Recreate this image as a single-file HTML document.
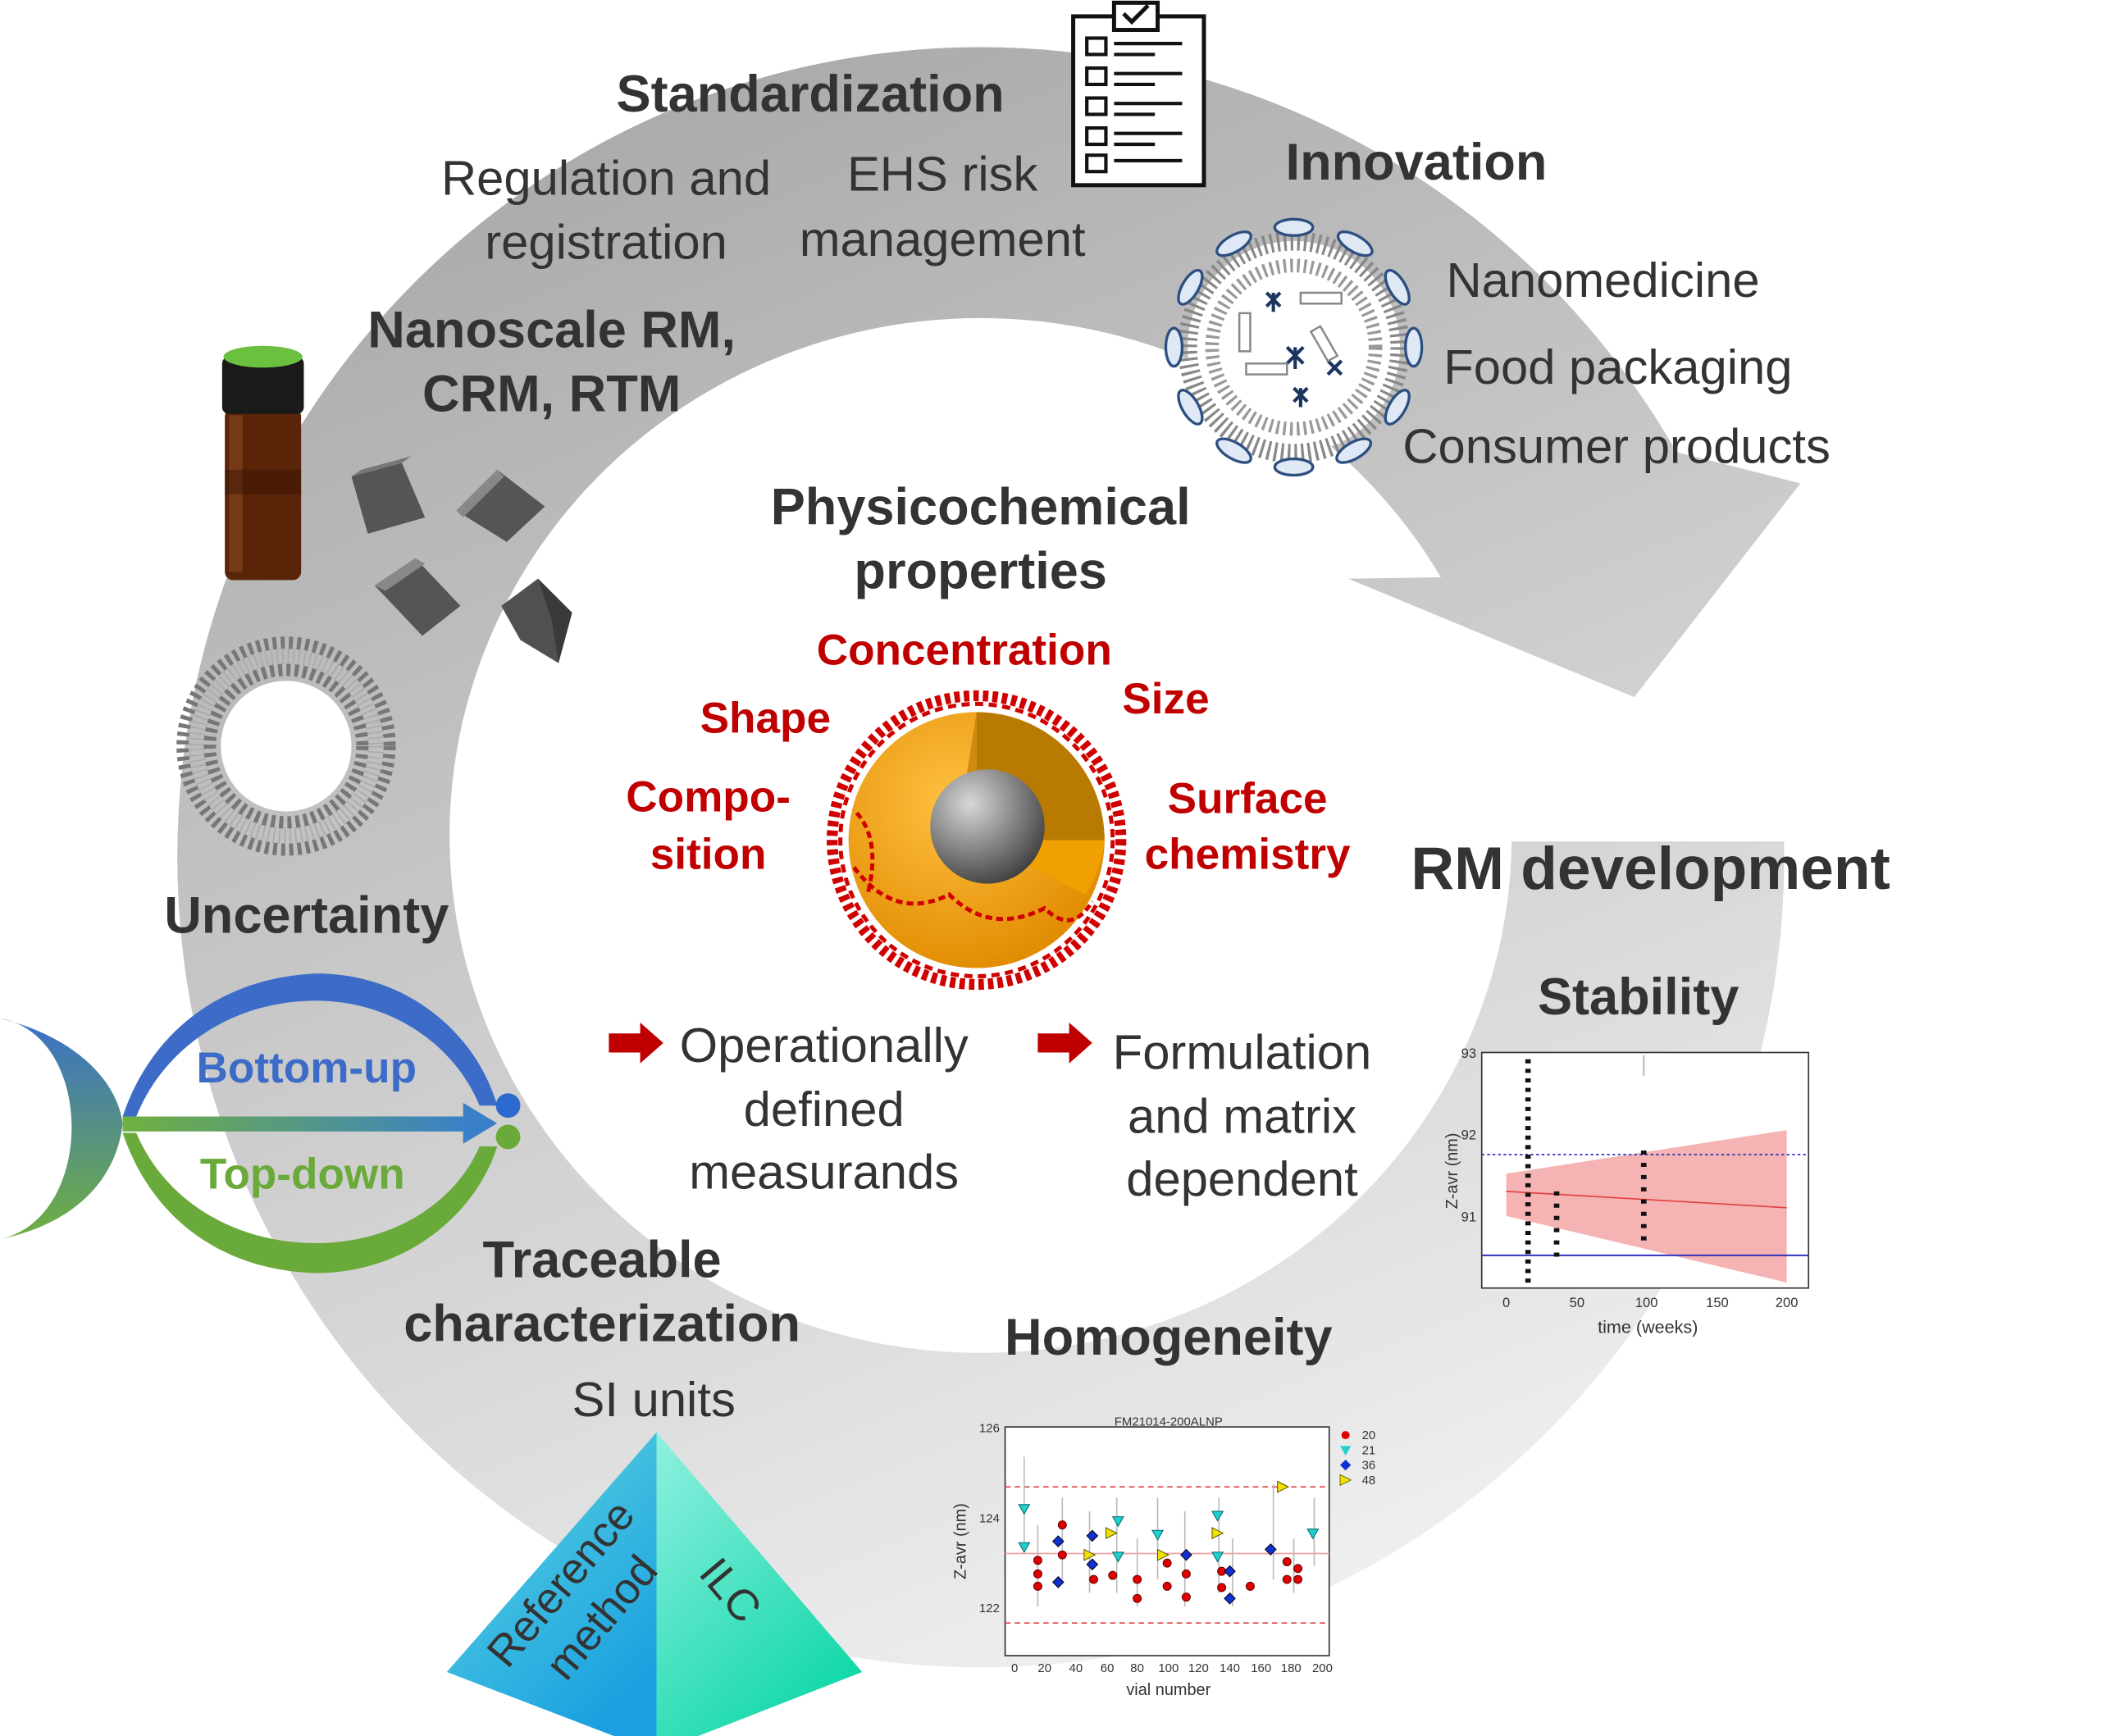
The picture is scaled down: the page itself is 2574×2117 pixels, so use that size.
<!DOCTYPE html>
<html><head><meta charset="utf-8"><style>
html,body{margin:0;padding:0;background:#fff}
svg{display:block}
text{font-family:"Liberation Sans",Arial,sans-serif;fill:#333}
.b{font-weight:bold}
.r{fill:#c00000;font-weight:bold}
</style></head><body>
<svg width="2574" height="2117" viewBox="0 0 1550 1275" xmlns="http://www.w3.org/2000/svg">
<defs>
<linearGradient id="ring" x1="0.3" y1="0" x2="0.7" y2="1">
<stop offset="0" stop-color="#a9a9a9"/><stop offset="0.5" stop-color="#cdcdcd"/><stop offset="1" stop-color="#f2f2f2"/></linearGradient>
<radialGradient id="org" cx="0.4" cy="0.35" r="0.7"><stop offset="0" stop-color="#ffc040"/><stop offset="1" stop-color="#e08a00"/></radialGradient>
<radialGradient id="core" cx="0.35" cy="0.3" r="0.75"><stop offset="0" stop-color="#d8d8d8"/><stop offset="1" stop-color="#404040"/></radialGradient>
<linearGradient id="pl" x1="0" y1="0" x2="0.6" y2="1"><stop offset="0" stop-color="#60d8e0"/><stop offset="1" stop-color="#1aa0e0"/></linearGradient>
<linearGradient id="pr" x1="0" y1="0" x2="0.6" y2="1"><stop offset="0" stop-color="#90f0e0"/><stop offset="1" stop-color="#10d8a8"/></linearGradient>
<linearGradient id="cres" x1="0" y1="0" x2="0" y2="1"><stop offset="0" stop-color="#3a70c8"/><stop offset="1" stop-color="#70b040"/></linearGradient>
<linearGradient id="arr" x1="0" y1="0" x2="1" y2="0"><stop offset="0" stop-color="#70b040"/><stop offset="1" stop-color="#3a80c8"/></linearGradient>
</defs>

<!-- ring -->
<path d="M1310,618 A590,595 0 1 1 1231,332 L1322,355 L1200,512 L990,425 L1058,424 A390,380 0 1 0 1110,618 Z" fill="url(#ring)"/>

<!-- clipboard -->
<g stroke="#111" stroke-width="3" fill="#fff">
<rect x="788" y="12" width="96" height="124"/>
<rect x="818" y="2" width="32" height="20"/>
<path d="M825,10 l6,6 l12,-12" fill="none"/>
<g fill="none" stroke-width="2.5">
<rect x="798" y="28" width="14" height="12"/><rect x="798" y="50" width="14" height="12"/><rect x="798" y="72" width="14" height="12"/><rect x="798" y="94" width="14" height="12"/><rect x="798" y="114" width="14" height="12"/>
<path d="M818,32h50M818,40h30M818,54h50M818,62h30M818,76h50M818,84h30M818,98h50M818,106h30M818,118h50"/>
</g></g>

<text x="595" y="82" font-size="38" text-anchor="middle" class="b">Standardization</text>
<text x="445" y="143" font-size="36" text-anchor="middle">Regulation and</text>
<text x="445" y="190" font-size="36" text-anchor="middle">registration</text>
<text x="692" y="140" font-size="36" text-anchor="middle">EHS risk</text>
<text x="692" y="188" font-size="36" text-anchor="middle">management</text>
<text x="1040" y="132" font-size="38" text-anchor="middle" class="b">Innovation</text>
<text x="1062" y="218" font-size="36">Nanomedicine</text>
<text x="1060" y="282" font-size="36">Food packaging</text>
<text x="1030" y="340" font-size="36">Consumer products</text>

<!-- top-right liposome -->
<g transform="translate(950,255)">
<circle r="78" fill="#fff" stroke="#888" stroke-width="14" stroke-dasharray="2 3"/>
<circle r="60" fill="#fff" stroke="#999" stroke-width="10" stroke-dasharray="2 3"/>
<g fill="#dfe8f5" stroke="#2c4f80" stroke-width="2">
<ellipse cx="0" cy="-88" rx="14" ry="6"/><ellipse cx="45" cy="-76" rx="14" ry="6" transform="rotate(30 45 -76)"/><ellipse cx="76" cy="-44" rx="14" ry="6" transform="rotate(60 76 -44)"/><ellipse cx="88" cy="0" rx="6" ry="14"/><ellipse cx="76" cy="44" rx="14" ry="6" transform="rotate(-60 76 44)"/><ellipse cx="44" cy="76" rx="14" ry="6" transform="rotate(-30 44 76)"/><ellipse cx="0" cy="88" rx="14" ry="6"/><ellipse cx="-44" cy="76" rx="14" ry="6" transform="rotate(30 -44 76)"/><ellipse cx="-76" cy="44" rx="14" ry="6" transform="rotate(60 -76 44)"/><ellipse cx="-88" cy="0" rx="6" ry="14"/><ellipse cx="-76" cy="-44" rx="14" ry="6" transform="rotate(-60 -76 -44)"/><ellipse cx="-44" cy="-76" rx="14" ry="6" transform="rotate(-30 -44 -76)"/>
</g>
<g stroke="#1c3560" stroke-width="2.5" fill="none">
<path d="M-20,-40 l10,10 m-10,0 l10,-10 m-5,0 v14"/><path d="M-5,0 l12,12 m-12,0 l12,-12 m-6,0 v16"/><path d="M25,10 l10,10 m-10,0 l10,-10"/><path d="M0,30 l10,10 m-10,0 l10,-10 m-5,0 v14"/>
</g>
<g stroke="#888" stroke-width="1.5" fill="#fff"><rect x="5" y="-40" width="30" height="8"/><rect x="-40" y="-25" width="8" height="28"/><rect x="-35" y="12" width="30" height="8"/><rect x="18" y="-15" width="8" height="25" transform="rotate(-30 22 -3)"/></g>
</g>

<text x="405" y="255" font-size="38" text-anchor="middle" class="b">Nanoscale RM,</text>
<text x="405" y="302" font-size="38" text-anchor="middle" class="b">CRM, RTM</text>

<!-- vial -->
<rect x="165" y="300" width="56" height="126" rx="6" fill="#5a2408"/>
<rect x="168" y="305" width="10" height="115" fill="#8a4a20" opacity="0.6"/>
<rect x="165" y="345" width="56" height="18" fill="#3a1404" opacity="0.5"/>
<rect x="163" y="262" width="60" height="42" rx="5" fill="#1a1a1a"/>
<ellipse cx="193" cy="262" rx="29" ry="8" fill="#6cc040"/>

<!-- cubes -->
<g>
<polygon points="258,350 295,340 312,380 270,392" fill="#555"/><polygon points="258,350 295,340 302,335 265,345" fill="#777"/>
<polygon points="335,375 365,345 400,372 372,398" fill="#555"/><polygon points="335,375 365,345 370,350 340,380" fill="#888"/>
<polygon points="275,430 305,410 338,445 310,467" fill="#555"/><polygon points="275,430 305,410 312,414 283,434" fill="#888"/>
<polygon points="368,445 395,425 420,450 410,487 382,470" fill="#505050"/><polygon points="395,425 420,450 410,487 405,455" fill="#3a3a3a"/>
</g>

<!-- gray liposome -->
<g transform="translate(210,548)">
<circle r="76" fill="none" stroke="#777" stroke-width="9" stroke-dasharray="3 3"/>
<circle r="66" fill="none" stroke="#aaa" stroke-width="12" stroke-dasharray="1 3"/>
<circle r="56" fill="none" stroke="#777" stroke-width="9" stroke-dasharray="3 3"/>
<circle r="48" fill="#fff"/>
</g>

<text x="225" y="685" font-size="38" text-anchor="middle" class="b">Uncertainty</text>

<!-- bottom-up/top-down -->
<path d="M0,748 C50,760 85,790 90,825 C85,870 50,900 0,910 C70,895 70,760 0,748Z" fill="url(#cres)"/>
<path d="M90,820 C110,760 160,718 232,715 C300,715 350,760 365,812 L352,812 C335,770 290,735 232,735 C170,735 120,770 100,820Z" fill="#3d6cc8"/>
<path d="M90,832 C110,892 160,933 232,935 C300,935 350,890 365,842 L352,842 C335,882 290,913 232,913 C170,913 120,880 100,832Z" fill="#6aaa3a"/>
<rect x="90" y="820" width="255" height="11" fill="url(#arr)"/>
<polygon points="340,810 365,825 340,840" fill="#3a80c8"/>
<circle cx="373" cy="812" r="9" fill="#2c6ad0"/><circle cx="373" cy="835" r="9" fill="#6aaa3a"/>
<text x="225" y="795" font-size="32" text-anchor="middle" class="b" style="fill:#3d6cc8">Bottom-up</text>
<text x="222" y="873" font-size="32" text-anchor="middle" class="b" style="fill:#6aaa3a">Top-down</text>

<text x="720" y="385" font-size="38" text-anchor="middle" class="b">Physicochemical</text>
<text x="720" y="432" font-size="38" text-anchor="middle" class="b">properties</text>

<text x="708" y="488" font-size="32" text-anchor="middle" class="r">Concentration</text>
<text x="856" y="524" font-size="32" text-anchor="middle" class="r">Size</text>
<text x="562" y="538" font-size="32" text-anchor="middle" class="r">Shape</text>
<text x="520" y="596" font-size="32" text-anchor="middle" class="r">Compo-</text>
<text x="520" y="638" font-size="32" text-anchor="middle" class="r">sition</text>
<text x="916" y="597" font-size="32" text-anchor="middle" class="r">Surface</text>
<text x="916" y="638" font-size="32" text-anchor="middle" class="r">chemistry</text>

<!-- nanoparticle -->
<g transform="translate(717,617)">
<circle r="106" fill="none" stroke="#d00000" stroke-width="8" stroke-dasharray="4 3"/>
<circle r="100" fill="none" stroke="#d00000" stroke-width="3" stroke-dasharray="6 4"/>
<circle r="94" fill="url(#org)"/>
<path d="M0,0 L0,-94 A94,94 0 0 1 94,0 Z" fill="#b87a00"/>
<path d="M0,0 L94,0 A94,94 0 0 1 80,40 Z" fill="#f0a000"/>
<path d="M0,-94 L0,0 L-10,-30 Z" fill="#d08a10"/>
<circle cx="8" cy="-10" r="42" fill="url(#core)"/>
<path d="M-90,20 Q-60,60 -20,40 Q10,70 50,50 Q70,70 85,45" fill="none" stroke="#d00000" stroke-width="3" stroke-dasharray="5 3"/>
<path d="M-88,-20 Q-70,0 -80,40" fill="none" stroke="#d00000" stroke-width="3" stroke-dasharray="5 3"/>
</g>

<!-- red arrows -->
<polygon points="447,759 470,759 470,751 487,766 470,781 470,773 447,773" fill="#c00000"/>
<polygon points="762,759 785,759 785,751 802,766 785,781 785,773 762,773" fill="#c00000"/>
<text x="605" y="780" font-size="36" text-anchor="middle">Operationally</text>
<text x="605" y="827" font-size="36" text-anchor="middle">defined</text>
<text x="605" y="873" font-size="36" text-anchor="middle">measurands</text>
<text x="912" y="785" font-size="36" text-anchor="middle">Formulation</text>
<text x="912" y="832" font-size="36" text-anchor="middle">and matrix</text>
<text x="912" y="878" font-size="36" text-anchor="middle">dependent</text>

<text x="1212" y="653" font-size="44" text-anchor="middle" class="b">RM development</text>
<text x="1203" y="745" font-size="38" text-anchor="middle" class="b">Stability</text>

<!-- stability chart -->
<g>
<rect x="1088" y="773" width="240" height="173" fill="#fff" stroke="#333" stroke-width="1"/>
<polygon points="1106,862 1312,830 1312,942 1106,893" fill="#f4a0a0" opacity="0.8"/>
<line x1="1106" y1="875" x2="1312" y2="887" stroke="#e04040" stroke-width="1"/>
<line x1="1088" y1="848" x2="1328" y2="848" stroke="#3030c0" stroke-width="1" stroke-dasharray="2 2"/>
<line x1="1088" y1="922" x2="1328" y2="922" stroke="#3030c0" stroke-width="1.2"/>
<line x1="1122" y1="778" x2="1122" y2="946" stroke="#111" stroke-width="4" stroke-dasharray="3 4"/>
<line x1="1143" y1="875" x2="1143" y2="925" stroke="#111" stroke-width="4" stroke-dasharray="3 6"/>
<line x1="1207" y1="845" x2="1207" y2="912" stroke="#111" stroke-width="4" stroke-dasharray="3 6"/>
<line x1="1207" y1="775" x2="1207" y2="790" stroke="#aaa" stroke-width="1"/>
<g font-size="10" text-anchor="end"><text x="1084" y="777">93</text><text x="1084" y="837">92</text><text x="1084" y="897">91</text></g>
<g font-size="10" text-anchor="middle"><text x="1106" y="960">0</text><text x="1158" y="960">50</text><text x="1209" y="960">100</text><text x="1261" y="960">150</text><text x="1312" y="960">200</text></g>
<text x="1210" y="979" font-size="13" text-anchor="middle">time (weeks)</text>
<text transform="translate(1070,860) rotate(-90)" font-size="12" text-anchor="middle">Z-avr (nm)</text>
</g>

<text x="442" y="938" font-size="38" text-anchor="middle" class="b">Traceable</text>
<text x="442" y="985" font-size="38" text-anchor="middle" class="b">characterization</text>
<text x="480" y="1040" font-size="36" text-anchor="middle">SI units</text>

<!-- pyramid -->
<polygon points="482,1052 328,1228 482,1287" fill="url(#pl)"/>
<polygon points="482,1052 633,1228 482,1287" fill="url(#pr)"/>
<text transform="translate(420,1170) rotate(-50)" font-size="32" text-anchor="middle">Reference</text>
<text transform="translate(450,1195) rotate(-50)" font-size="32" text-anchor="middle">method</text>
<text transform="translate(528,1175) rotate(50)" font-size="32" text-anchor="middle">ILC</text>

<text x="858" y="995" font-size="38" text-anchor="middle" class="b">Homogeneity</text>

<!-- homogeneity chart -->
<g>
<rect x="738" y="1048" width="238" height="168" fill="#fff" stroke="#333" stroke-width="1"/>
<text x="858" y="1047" font-size="9" text-anchor="middle">FM21014-200ALNP</text>
<line x1="738" y1="1092" x2="976" y2="1092" stroke="#e04040" stroke-dasharray="4 3"/>
<line x1="738" y1="1192" x2="976" y2="1192" stroke="#e04040" stroke-dasharray="4 3"/>
<line x1="738" y1="1141" x2="976" y2="1141" stroke="#f4a0a0"/>
<g stroke="#bbb" stroke-width="1">
<path d="M752,1070v70M762,1120v60M780,1100v60M800,1110v60M820,1100v70M835,1130v50M850,1100v60M870,1110v70M895,1100v70M905,1130v50M935,1090v70M950,1130v40M965,1100v50"/></g>
<g fill="#e00000" stroke="#600" stroke-width="0.6">
<circle cx="762" cy="1146" r="3"/><circle cx="762" cy="1156" r="3"/><circle cx="762" cy="1165" r="3"/><circle cx="780" cy="1120" r="3"/><circle cx="780" cy="1142" r="3"/><circle cx="803" cy="1160" r="3"/><circle cx="817" cy="1157" r="3"/><circle cx="835" cy="1160" r="3"/><circle cx="835" cy="1174" r="3"/><circle cx="857" cy="1148" r="3"/><circle cx="857" cy="1165" r="3"/><circle cx="871" cy="1156" r="3"/><circle cx="871" cy="1173" r="3"/><circle cx="897" cy="1154" r="3"/><circle cx="897" cy="1166" r="3"/><circle cx="918" cy="1165" r="3"/><circle cx="945" cy="1147" r="3"/><circle cx="945" cy="1160" r="3"/><circle cx="953" cy="1152" r="3"/><circle cx="953" cy="1160" r="3"/></g>
<g fill="#20d0d0" stroke="#066" stroke-width="0.6">
<polygon points="748,1105 756,1105 752,1112"/><polygon points="748,1133 756,1133 752,1140"/><polygon points="817,1114 825,1114 821,1121"/><polygon points="817,1140 825,1140 821,1147"/><polygon points="846,1124 854,1124 850,1131"/><polygon points="890,1110 898,1110 894,1117"/><polygon points="890,1140 898,1140 894,1147"/><polygon points="960,1123 968,1123 964,1130"/></g>
<g fill="#1030d0" stroke="#001" stroke-width="0.6">
<polygon points="777,1128 781,1132 777,1136 773,1132"/><polygon points="777,1158 781,1162 777,1166 773,1162"/><polygon points="802,1124 806,1128 802,1132 798,1128"/><polygon points="802,1145 806,1149 802,1153 798,1149"/><polygon points="871,1138 875,1142 871,1146 867,1142"/><polygon points="903,1150 907,1154 903,1158 899,1154"/><polygon points="903,1170 907,1174 903,1178 899,1174"/><polygon points="933,1134 937,1138 933,1142 929,1138"/></g>
<g fill="#f0e000" stroke="#550" stroke-width="0.6">
<polygon points="796,1138 804,1142 796,1146"/><polygon points="812,1122 820,1126 812,1130"/><polygon points="850,1138 858,1142 850,1146"/><polygon points="890,1122 898,1126 890,1130"/><polygon points="938,1088 946,1092 938,1096"/></g>
<g font-size="9" text-anchor="end"><text x="734" y="1052">126</text><text x="734" y="1118">124</text><text x="734" y="1184">122</text></g>
<g font-size="9" text-anchor="middle"><text x="745" y="1228">0</text><text x="767" y="1228">20</text><text x="790" y="1228">40</text><text x="813" y="1228">60</text><text x="835" y="1228">80</text><text x="858" y="1228">100</text><text x="880" y="1228">120</text><text x="903" y="1228">140</text><text x="926" y="1228">160</text><text x="948" y="1228">180</text><text x="971" y="1228">200</text></g>
<text x="858" y="1245" font-size="12" text-anchor="middle">vial number</text>
<text transform="translate(709,1132) rotate(-90)" font-size="12" text-anchor="middle">Z-avr (nm)</text>
<g font-size="9"><circle cx="988" cy="1054" r="3" fill="#e00000"/><text x="1000" y="1057">20</text>
<polygon points="984,1062 992,1062 988,1069" fill="#20d0d0"/><text x="1000" y="1068">21</text>
<polygon points="988,1072 992,1076 988,1080 984,1076" fill="#1030d0"/><text x="1000" y="1079">36</text>
<polygon points="984,1083 992,1087 984,1091" fill="#f0e000" stroke="#550" stroke-width="0.5"/><text x="1000" y="1090">48</text></g>
</g>
</svg>
</body></html>
